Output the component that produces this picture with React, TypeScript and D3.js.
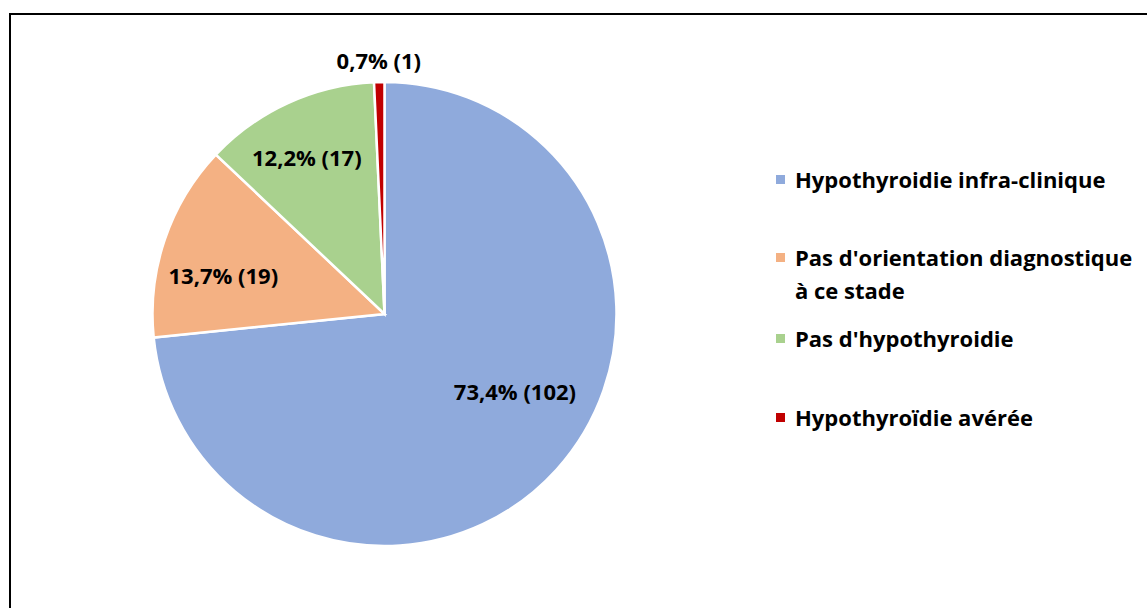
import React from 'react'
import { pie, arc } from 'd3'

const categories = [
  'Hypothyroidie infra-clinique',
  "Pas d'orientation diagnostique à ce stade",
  "Pas d'hypothyroidie",
  'Hypothyroïdie avérée',
]
const counts = [102, 19, 17, 1]
const percentLabels = ['73,4%', '13,7%', '12,2%', '0,7%']
const colors = ['#8FAADC', '#F4B183', '#A9D18E', '#C00000']
// legend text split on lines like the original
const legendLines = [
  ['Hypothyroidie infra-clinique'],
  ["Pas d'orientation diagnostique", 'à ce stade'],
  ["Pas d'hypothyroidie"],
  ['Hypothyroïdie avérée'],
]

const W = 1147
const H = 608
const cx = 384.5
const cy = 314
const R = 232
const font = '"Open Sans", Lato, sans-serif'
const fs = 22

// small nudges so labels sit where Excel put them
const nudge = [
  [8, -34],
  [-5, 14],
  [-9, -7],
  [0, -2],
]

const App = () => {
  const slices = pie<number>().sort(null).startAngle(0).endAngle(2 * Math.PI)(counts)
  const arcGen = arc<any>().innerRadius(0).outerRadius(R)
  const labelArc = arc<any>().innerRadius(165).outerRadius(165)
  const outerArc = arc<any>().innerRadius(R + 20).outerRadius(R + 20)

  const legendX = 776
  const legendRows = [180, 258, 339, 418]

  return (
    <svg width={W} height={H} style={{ position: 'absolute', left: 0, top: 0, background: '#fff' }}>
      <rect x={10} y={14} width={W + 20} height={H + 20} fill="#fff" stroke="#000" strokeWidth={2} />
      <g transform={`translate(${cx},${cy})`}>
        {slices.map((s, i) => (
          <path key={i} d={arcGen(s) || ''} fill={colors[i]} stroke="#fff" strokeWidth={2.5} />
        ))}
        {slices.map((s, i) => {
          const outside = counts[i] / 139 < 0.05
          const [x, y] = outside ? outerArc.centroid(s) : labelArc.centroid(s)
          return (
            <text
              key={i}
              x={x + nudge[i][0]}
              y={y + nudge[i][1]}
              textAnchor="middle"
              dominantBaseline="central"
              fontFamily={font}
              fontWeight="bold"
              fontSize={fs}
              fill="#000"
            >
              {`${percentLabels[i]} (${counts[i]})`}
            </text>
          )
        })}
      </g>
      {categories.map((c, i) => (
        <g key={c}>
          <rect x={legendX} y={legendRows[i] - 5} width={9} height={9} fill={colors[i]} />
          {legendLines[i].map((line, j) => (
            <text
              key={j}
              x={795}
              y={legendRows[i] - 1 + j * 33}
              dominantBaseline="central"
              fontFamily={font}
              fontWeight="bold"
              fontSize={fs}
              fill="#000"
            >
              {line}
            </text>
          ))}
        </g>
      ))}
    </svg>
  )
}

export default App
